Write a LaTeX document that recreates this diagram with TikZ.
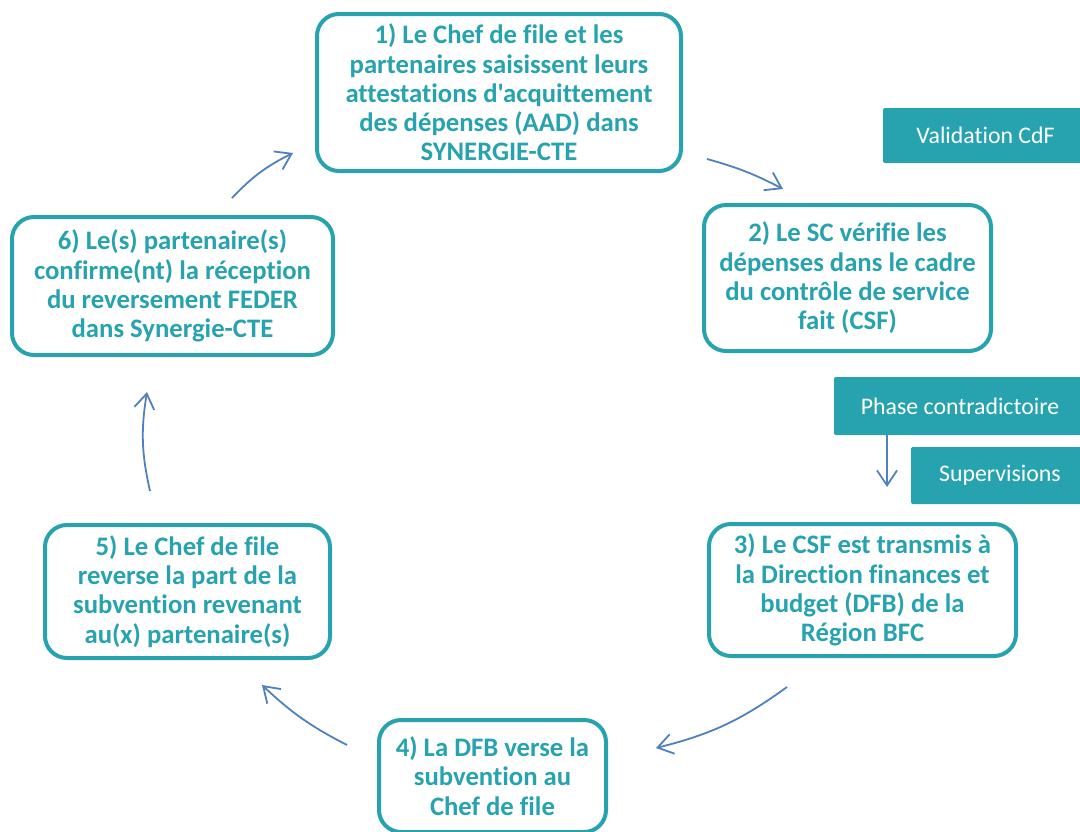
\documentclass[tikz,border=0pt]{standalone}
\usepackage{fontspec}
\newfontfamily\calib{Carlito}[Ligatures={NoCommon}]
\usetikzlibrary{arrows.meta}
\definecolor{teal1}{RGB}{38,163,174}
\definecolor{arrowblue}{RGB}{79,129,189}
\begin{document}
\begin{tikzpicture}[x=1pt,y=-1pt,
  stepbox/.style={draw=teal1, line width=4pt, rounded corners=22pt, fill=white,
    text=teal1, font=\calib\bfseries\fontsize{26.7}{29.3}\selectfont, align=center, inner sep=0pt},
  tagbox/.style={fill=teal1, rounded corners=2pt, text=white,
    font=\calib\fontsize{23.8}{27}\selectfont, inner sep=0pt},
  flow/.style={draw=arrowblue, line width=1.8pt, -{Straight Barb[length=15pt,width=20pt]}}]
\clip (0,0) rectangle (1080,831);
\fill[white] (0,0) rectangle (1080,831);

% step boxes
\node[stepbox, minimum width=364pt, minimum height=157pt] (s1) at (499,92.5)
  {1) Le Chef de file et les\\partenaires saisissent leurs\\attestations d'acquittement\\des dépenses (AAD) dans\\SYNERGIE-CTE};
\node[stepbox, minimum width=287pt, minimum height=146pt] (s2) at (847.5,278)
  {2) Le SC vérifie les\\dépenses dans le cadre\\du contrôle de service\\fait (CSF)};
\node[stepbox, minimum width=307pt, minimum height=132pt] (s3) at (862.5,590)
  {3) Le CSF est transmis à\\la Direction finances et\\budget (DFB) de la\\Région BFC};
\node[stepbox, minimum width=227pt, minimum height=112pt] (s4) at (492.5,776)
  {4) La DFB verse la\\subvention au\\Chef de file};
\node[stepbox, minimum width=285pt, minimum height=133pt] (s5) at (187.5,591.5)
  {5) Le Chef de file\\reverse la part de la\\subvention revenant\\au(x) partenaire(s)};
\node[stepbox, minimum width=321pt, minimum height=138pt] (s6) at (172.5,286)
  {6) Le(s) partenaire(s)\\confirme(nt) la réception\\du reversement FEDER\\dans Synergie-CTE};

% tag boxes
\node[tagbox, minimum width=205pt, minimum height=55pt] (t1) at (985.5,135.5) {Validation CdF};
\node[tagbox, minimum width=252pt, minimum height=58pt] (t2) at (960,406) {Phase contradictoire};
\node[tagbox, minimum width=178pt, minimum height=57pt] (t3) at (1000,475.5) {Supervisions};

% arrow end points
\coordinate (a12s) at (707,159);
\coordinate (a12e) at (783,189);
\coordinate (a34s) at (787,687);
\coordinate (a34e) at (656,748);
\coordinate (a45s) at (347,745);
\coordinate (a45e) at (262,685);
\coordinate (a56s) at (150,491);
\coordinate (a56e) at (147,392);
\coordinate (a61s) at (232,198);
\coordinate (a61e) at (293,153);
\coordinate (aps) at (887,435);
\coordinate (ape) at (887,487);

\draw[flow] (a12s) to[bend left=6] (a12e);
\draw[flow] (a34s) to[bend left=11] (a34e);
\draw[flow] (a45s) to[bend left=8] (a45e);
\draw[flow] (a56s) to[bend left=11] (a56e);
\draw[flow] (a61s) to[bend left=10] (a61e);
\draw[flow] (aps) -- (ape);
\end{tikzpicture}
\end{document}
